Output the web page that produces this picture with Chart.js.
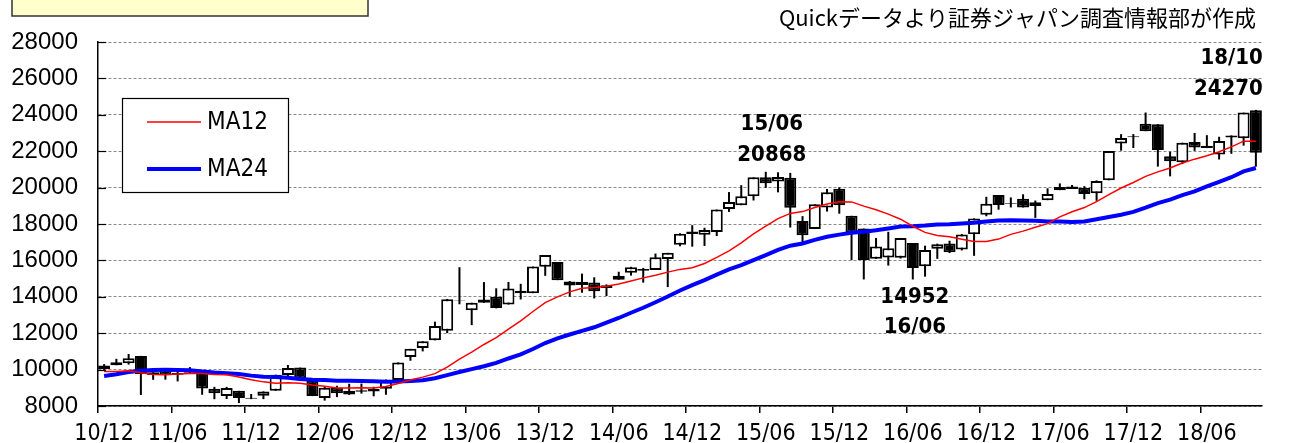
<!DOCTYPE html>
<html>
<head>
<meta charset="utf-8">
<script src="https://cdn.jsdelivr.net/npm/chart.js@4.4.1/dist/chart.umd.min.js"></script>
<style>
  html, body { margin: 0; padding: 0; background: #fff; }
  #wrap { position: relative; width: 1289px; height: 443px; }
</style>
</head>
<body>
<div id="wrap"><canvas id="chart" width="1289" height="443"></canvas></div>
<script>
// ---- data (monthly, 2010/12 - 2018/10) ----
const months = [
  '10/12',
  '11/01','11/02','11/03','11/04','11/05','11/06','11/07','11/08','11/09','11/10','11/11','11/12',
  '12/01','12/02','12/03','12/04','12/05','12/06','12/07','12/08','12/09','12/10','12/11','12/12',
  '13/01','13/02','13/03','13/04','13/05','13/06','13/07','13/08','13/09','13/10','13/11','13/12',
  '14/01','14/02','14/03','14/04','14/05','14/06','14/07','14/08','14/09','14/10','14/11','14/12',
  '15/01','15/02','15/03','15/04','15/05','15/06','15/07','15/08','15/09','15/10','15/11','15/12',
  '16/01','16/02','16/03','16/04','16/05','16/06','16/07','16/08','16/09','16/10','16/11','16/12',
  '17/01','17/02','17/03','17/04','17/05','17/06','17/07','17/08','17/09','17/10','17/11','17/12',
  '18/01','18/02','18/03','18/04','18/05','18/06','18/07','18/08','18/09','18/10'
];

const openP = [
  10030,
  10398, 10350, 10754, 9708, 10004, 9719, 9868, 9965, 8950, 8545, 8835, 8398,
  8560, 8832, 9707, 10110, 9381, 8441, 9003, 8635, 8783, 8797, 8946, 9432,
  10688, 11191, 11606, 12135, 13799, 13261, 13852, 14005, 13572, 14194, 14201, 15655,
  15908, 14619, 14652, 14791, 14485, 14935, 15326, 15523, 15476, 16082, 16862, 17590,
  17408, 17558, 18826, 19034, 19531, 20569, 20329, 20548, 18165, 17722, 18900, 19939,
  18451, 17750, 16085, 16164, 16147, 16955, 15682, 16636, 16927, 16599, 17442, 18513,
  19594, 19148, 19393, 18983, 19310, 19860, 20055, 19985, 19691, 20400, 22420, 22819,
  23506, 23486, 21724, 21388, 22508, 22171, 21812, 22746, 22707, 24245
];
const highP = [
  10300,
  10590, 10857, 10754, 9850, 10004, 9868, 10138, 9965, 9050, 9050, 8835, 8658,
  8803, 9723, 10255, 10110, 9381, 9073, 9115, 9222, 9232, 9055, 9458, 10395,
  11139, 11559, 12635, 13884, 15627, 13677, 14809, 14467, 14817, 14713, 15662, 16291,
  15908, 14865, 15274, 15071, 14682, 15376, 15646, 15586, 16374, 16414, 17490, 17935,
  17795, 18798, 19754, 20133, 20563, 20868, 20841, 20808, 18432, 19083, 19924, 20012,
  18451, 17750, 17233, 17572, 17235, 16955, 16810, 16919, 17081, 17446, 18308, 19494,
  19594, 19460, 19633, 19290, 19961, 20230, 20145, 20080, 20398, 22012, 22938, 22939,
  24124, 23486, 21968, 22468, 23002, 22879, 22794, 22869, 24120, 24270
];
const lowP = [
  9990,
  10238, 10274, 8605, 9441, 9448, 9351, 9800, 8619, 8374, 8382, 8160, 8377,
  8378, 8832, 9577, 9380, 8543, 8296, 8488, 8612, 8680, 8534, 8619, 9432,
  10486, 11000, 11606, 12004, 13589, 12445, 13668, 13365, 13572, 13853, 14201, 15151,
  14915, 14008, 14224, 13910, 14042, 14935, 15164, 14778, 15476, 14532, 16781, 16755,
  16795, 17335, 18665, 19034, 19292, 19990, 19738, 17806, 16930, 17722, 18683, 18565,
  16017, 14953, 16085, 15715, 16106, 14952, 15106, 16084, 16405, 16548, 16251, 18426,
  18787, 18910, 18909, 18336, 19310, 19860, 19925, 19360, 19275, 20400, 22028, 22177,
  23098, 21154, 20618, 21292, 22018, 22171, 21546, 21858, 22307, 21149
];
const closeP = [
  10229,
  10238, 10624, 9755, 9850, 9694, 9816, 9833, 8955, 8700, 8988, 8435, 8455,
  8803, 9723, 10084, 9521, 8543, 9007, 8695, 8840, 8870, 8928, 9446, 10395,
  11139, 11559, 12398, 13861, 13775, 13677, 13668, 13389, 14456, 14328, 15662, 16291,
  14915, 14841, 14828, 14304, 14632, 15162, 15621, 15425, 16174, 16414, 17460, 17451,
  17674, 18798, 19207, 19520, 20563, 20236, 20585, 18890, 17388, 19083, 19747, 19034,
  17518, 16027, 16759, 16666, 17235, 15576, 16569, 16887, 16450, 17425, 18308, 19114,
  19041, 19119, 18909, 19197, 19651, 20033, 19925, 19646, 20356, 22012, 22725, 22765,
  23098, 22068, 21454, 22468, 22202, 22305, 22554, 22865, 24120, 21920
];

const ma12 = [
  9893,
  9897, 9938, 9827, 9726, 9720, 9756, 9781, 9792, 9736, 9718, 9593, 9445,
  9326, 9251, 9278, 9251, 9155, 9087, 8992, 8983, 8997, 8992, 9076, 9238,
  9433, 9586, 9778, 10140, 10576, 10965, 11380, 11759, 12224, 12674, 13192, 13684,
  13998, 14272, 14474, 14511, 14583, 14706, 14869, 15039, 15182, 15356, 15506, 15602,
  15832, 16162, 16527, 16962, 17456, 17879, 18292, 18581, 18682, 18905, 19095, 19227,
  19214, 18983, 18779, 18541, 18264, 17876, 17541, 17374, 17296, 17158, 17038, 17045,
  17171, 17429, 17608, 17819, 18021, 18392, 18672, 18902, 19227, 19609, 19977, 20282,
  20620, 20865, 21078, 21350, 21563, 21752, 21971, 22239, 22553, 22545
];
const ma24 = [
  9650,
  9744, 9871, 9940, 9982, 9989, 9983, 9962, 9898, 9838, 9794, 9756, 9669,
  9611, 9594, 9552, 9488, 9437, 9422, 9387, 9387, 9367, 9355, 9335, 9342,
  9379, 9418, 9528, 9695, 9865, 10026, 10186, 10371, 10611, 10833, 11134, 11461,
  11715, 11929, 12126, 12326, 12579, 12836, 13124, 13399, 13703, 14015, 14349, 14643,
  14915, 15217, 15501, 15736, 16019, 16292, 16581, 16810, 16932, 17130, 17300, 17415,
  17523, 17573, 17653, 17751, 17860, 17877, 17917, 17978, 17989, 18031, 18067, 18136,
  18193, 18206, 18194, 18180, 18142, 18134, 18106, 18138, 18261, 18384, 18508, 18663,
  18896, 19147, 19343, 19585, 19792, 20072, 20321, 20570, 20890, 21077
];

const seriesNames = ['MA12', 'MA24'];
const sourceText = 'Quickデータより証券ジャパン調査情報部が作成';

// marked extremes
const notes = [
  { idx: 54, value: 20868, top: '15/06', bottom: '20868' },
  { idx: 66, value: 14952, top: '14952', bottom: '16/06' },
  { idx: 94, value: 24270, top: '18/10', bottom: '24270' }
];

// ---- styles ----
const NARROW = "'Liberation Sans Narrow', 'Arial Narrow', 'DejaVu Sans Condensed', sans-serif";
const REG = "'Liberation Sans', Arial, sans-serif";
const JP = "'Noto Sans CJK JP', sans-serif";

const bodyColors = openP.map((o, i) => (closeP[i] >= o ? '#ffffff' : '#000000'));

const extras = {
  id: 'extras',
  beforeDraw(chart) {
    const ctx = chart.ctx;
    ctx.save();
    // yellow box at top left
    ctx.fillStyle = '#ffffcc';
    ctx.fillRect(12, -5, 356, 21);
    ctx.strokeStyle = '#333333';
    ctx.lineWidth = 1.5;
    ctx.strokeRect(12, -5, 356, 21);
    // source note
    ctx.fillStyle = '#000';
    ctx.font = '22px ' + JP;
    ctx.textAlign = 'right';
    ctx.textBaseline = 'middle';
    ctx.fillText(sourceText, 1256, 18);
    ctx.restore();
  },
  afterDraw(chart) {
    const { ctx, chartArea, scales } = chart;
    const x = scales.x, y = scales.y;
    ctx.save();

    // short inner ticks on the y axis
    ctx.strokeStyle = '#000';
    ctx.lineWidth = 1.2;
    y.ticks.forEach(t => {
      const py = Math.round(y.getPixelForValue(t.value)) + 0.5;
      ctx.beginPath();
      ctx.moveTo(chartArea.left, py);
      ctx.lineTo(chartArea.left + 8, py);
      ctx.stroke();
    });

    // legend box
    ctx.fillStyle = '#fff';
    ctx.fillRect(122, 98, 166, 94);
    ctx.strokeStyle = '#000';
    ctx.lineWidth = 1.2;
    ctx.strokeRect(122.5, 98.5, 166, 94);
    ctx.lineWidth = 1.5;
    ctx.strokeStyle = '#ff0000';
    ctx.beginPath(); ctx.moveTo(147, 122); ctx.lineTo(201, 122); ctx.stroke();
    ctx.lineWidth = 4;
    ctx.strokeStyle = '#0000ff';
    ctx.beginPath(); ctx.moveTo(147, 169); ctx.lineTo(201, 169); ctx.stroke();
    ctx.fillStyle = '#000';
    ctx.font = '24px ' + NARROW;
    ctx.textAlign = 'left';
    ctx.textBaseline = 'middle';
    ctx.fillText(seriesNames[0], 207, 123);
    ctx.fillText(seriesNames[1], 207, 170);

    // labels at the extremes
    ctx.font = 'bold 22px ' + NARROW;
    notes.forEach((n, k) => {
      const px = x.getPixelForValue(n.idx);
      const py = y.getPixelForValue(n.value);
      if (k === 0) {
        ctx.textAlign = 'center';
        ctx.fillText(n.top, px + 6, py - 48);
        ctx.fillText(n.bottom, px + 6, py - 17);
      } else if (k === 1) {
        ctx.textAlign = 'center';
        ctx.fillText(n.top, px + 2, py + 18);
        ctx.fillText(n.bottom, px + 2, py + 48);
      } else {
        ctx.textAlign = 'right';
        ctx.fillText(n.top, px + 7, py - 52);
        ctx.fillText(n.bottom, px + 7, py - 21);
      }
    });
    ctx.restore();
  }
};

new Chart(document.getElementById('chart'), {
  type: 'bar',
  data: {
    labels: months,
    datasets: [
      {
        type: 'line', label: seriesNames[0], data: ma12,
        borderColor: '#ff0000', borderWidth: 1.5, pointRadius: 0, tension: 0, order: 0
      },
      {
        type: 'line', label: seriesNames[1], data: ma24,
        borderColor: '#0000ff', borderWidth: 4, pointRadius: 0, tension: 0, order: 1
      },
      {
        label: 'body', data: openP.map((o, i) => [o, closeP[i]]),
        backgroundColor: bodyColors, borderColor: '#000', borderWidth: 2,
        borderSkipped: false, barThickness: 12, inflateAmount: 0,
        grouped: false, order: 2
      },
      {
        label: 'wick', data: lowP.map((l, i) => [l, highP[i]]),
        backgroundColor: '#000', barThickness: 2, inflateAmount: 0, grouped: false, order: 3
      }
    ]
  },
  options: {
    responsive: false,
    animation: false,
    layout: { padding: { top: 42, right: 27, left: 0, bottom: 0 } },
    plugins: { legend: { display: false }, tooltip: { enabled: false } },
    scales: {
      x: {
        offset: true,
        grid: {
          offset: true,
          drawOnChartArea: false,
          drawTicks: true,
          tickLength: 7,
          lineWidth: 1.5,
          color: c => (c.index % 6 === 0 ? '#000' : 'rgba(0,0,0,0)')
        },
        border: { display: true, color: '#000', width: 1.5 },
        ticks: {
          autoSkip: false,
          maxRotation: 0,
          padding: 7,
          color: '#000',
          font: { family: NARROW, size: 23 },
          callback: (v, i) => (months[i].endsWith('/06') || months[i].endsWith('/12') ? months[i] : '')
        },
        afterFit(s) { s.height = 37; }
      },
      y: {
        min: 8000,
        max: 28000,
        ticks: {
          stepSize: 2000,
          padding: 20,
          color: '#000',
          font: { family: REG, size: 24 },
          callback: v => String(v)
        },
        grid: { color: '#8a8a8a', lineWidth: 1, drawTicks: false, tickLength: 0 },
        border: { display: true, color: '#000', width: 1.5, dash: [3, 2] },
        afterFit(s) { s.width = 98; }
      }
    }
  },
  plugins: [extras]
});
</script>
</body>
</html>
